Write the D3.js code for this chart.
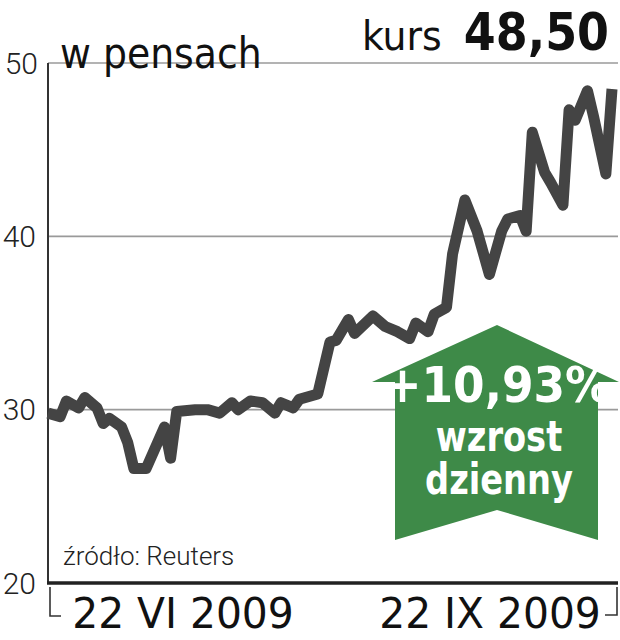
<!DOCTYPE html>
<html><head><meta charset="utf-8">
<script src="https://cdn.jsdelivr.net/npm/d3@7"></script>
<style>
html,body{margin:0;padding:0;background:#fff;}
svg{display:block;}
</style></head>
<body>
<script>
// ---- data ----
const days = [0,2,3,5,6,8,9,10,12,13,14,16,19,20,21,24,26,28,30,31,33,35,37,38,40,41,44,46,47,49,50,53,55,57,59,60,62,63,65,66,68,70,72,74,75,77,78,79,81,82,84,85,86,88,89,91,92];
const prices = [29.8,29.6,30.5,30.1,30.7,30.1,29.2,29.5,29.0,28.1,26.6,26.6,29.0,27.2,29.9,30.0,30.0,29.8,30.4,30.0,30.5,30.4,29.8,30.4,30.1,30.6,30.9,33.9,34.0,35.2,34.4,35.4,34.8,34.5,34.1,35.0,34.5,35.5,35.9,39.0,42.1,40.3,37.8,40.3,41.0,41.2,40.3,46.0,43.7,43.1,41.8,47.3,46.7,48.4,46.9,43.6,48.5];
const yTicks = [20,30,40,50];
const gridTicks = [30,40,50];
const dateLabels = ["22 VI 2009","22 IX 2009"];
const unitLabel = "w pensach";
const kursLabel = "kurs";
const kursValue = "48,50";
const changeLabel = "+10,93%";
const changeText = ["wzrost","dzienny"];
const sourceLabel = "źródło: Reuters";

(function(){
const W = 620, H = 640;
const svg = d3.select("body").append("svg").attr("width",W).attr("height",H);

const x = d3.scaleLinear().domain([0,92]).range([48,612]);
const y = d3.scaleLinear().domain([20,50]).range([583,63]);

const cond = "'Liberation Sans Narrow','DejaVu Sans Condensed','Roboto Condensed',Roboto,sans-serif";

// gridlines
svg.append("g").selectAll("line").data(gridTicks).join("line")
  .attr("x1",48).attr("x2",618)
  .attr("y1",d=>y(d)).attr("y2",d=>y(d))
  .attr("stroke","#9a9a9a").attr("stroke-width",1.6);

// left axis line
svg.append("line").attr("x1",48).attr("x2",48).attr("y1",y(50)).attr("y2",y(20))
  .attr("stroke","#333").attr("stroke-width",2);

// y tick labels
svg.append("g").selectAll("text").data(yTicks).join("text")
  .attr("x",d=>d===50?38:36).attr("y",d=>y(d)).attr("dy","0.36em")
  .attr("text-anchor","end")
  .style("font-family","Roboto,sans-serif").style("font-weight",300)
  .style("font-size","30px").attr("fill","#222")
  .text(d=>d);

// arrow annotation
const ax = 497, aTop = 325, wing = 382, sl = 395, sr = 598, bot = 540, notch = 510;
svg.append("path")
  .attr("d",`M${ax},${aTop} L619,${wing} L${sr},${wing} L${sr},${bot} L${ax},${notch} L${sl},${bot} L${sl},${wing} L372,${wing} Z`)
  .attr("fill","#3e8a48");
svg.append("text").attr("transform","translate(497,402) scale(1.03,1)").attr("text-anchor","middle")
  .style("font-family",cond).style("font-weight",700).style("font-size","49px")
  .attr("fill","#fff").text(changeLabel);
const sub = svg.append("text").attr("transform","translate(499,451) scale(0.87,1)").attr("text-anchor","middle")
  .style("font-family",cond).style("font-weight",700).style("font-size","43px")
  .attr("fill","#fff");
sub.selectAll("tspan").data(changeText).join("tspan")
  .attr("x",0).attr("y",(d,i)=>i*43).text(d=>d);

// price line
const line = d3.line().x((d,i)=>x(days[i])).y(d=>y(d));
svg.append("path").datum(prices).attr("d",line)
  .attr("fill","none").attr("stroke","#444").attr("stroke-width",11)
  .attr("stroke-linejoin","round").attr("stroke-linecap","butt");

// bottom axis
svg.append("line").attr("x1",47).attr("x2",618).attr("y1",583).attr("y2",583)
  .attr("stroke","#222").attr("stroke-width",3.5);
// brackets
svg.append("path").attr("d","M50,587 L50,616 L61,616").attr("fill","none").attr("stroke","#333").attr("stroke-width",1.6);
svg.append("path").attr("d","M617,587 L617,615 L605,615").attr("fill","none").attr("stroke","#333").attr("stroke-width",1.6);

svg.append("g").selectAll("text").data(dateLabels).join("text")
  .attr("transform",(d,i)=>`translate(${i===0?183:490},628) scale(1.08,1)`).attr("text-anchor","middle")
  .style("font-family",cond).style("font-size","42px").attr("fill","#111")
  .text(d=>d);

// titles
svg.append("text").attr("x",60).attr("y",68)
  .style("font-family",cond).style("font-size","42px").attr("fill","#111").text(unitLabel);
svg.append("text").attr("transform","translate(362,50) scale(1.05,1)")
  .style("font-family",cond).style("font-size","40px").attr("fill","#111").text(kursLabel);
svg.append("text").attr("x",609).attr("y",50).attr("text-anchor","end")
  .style("font-family",cond).style("font-weight",700).style("font-size","51px").attr("fill","#111").text(kursValue);

svg.append("text").attr("x",63).attr("y",565)
  .style("font-family","Roboto,sans-serif").style("font-weight",300).style("font-size","26px").attr("fill","#222").text(sourceLabel);
})();
</script>
</body></html>
